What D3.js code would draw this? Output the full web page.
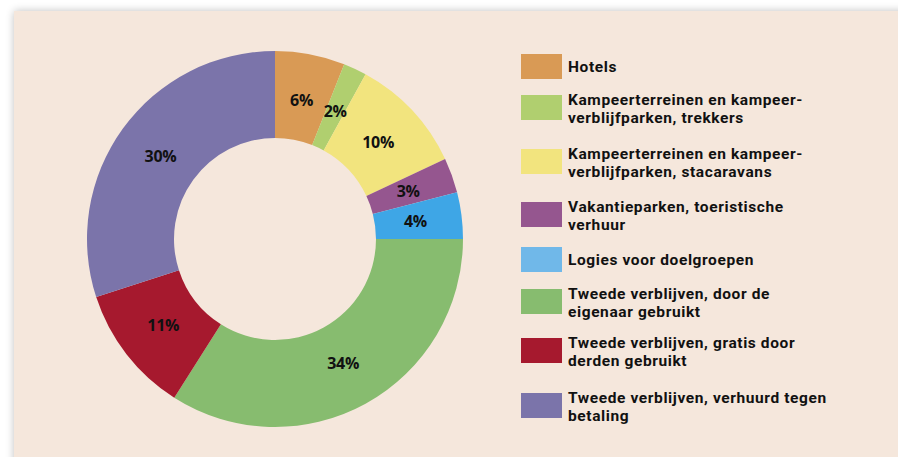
<!DOCTYPE html>
<html><head><meta charset="utf-8">
<script src="https://cdn.jsdelivr.net/npm/d3@7"></script>
<style>
html,body{margin:0;padding:0;background:#fff;}
svg{display:block;}
</style></head>
<body>
<svg id="chart" width="898" height="457"></svg>
<script>
const categories = [
  "Hotels",
  "Kampeerterreinen en kampeer-|verblijfparken, trekkers",
  "Kampeerterreinen en kampeer-|verblijfparken, stacaravans",
  "Vakantieparken, toeristische|verhuur",
  "Logies voor doelgroepen",
  "Tweede verblijven, door de|eigenaar gebruikt",
  "Tweede verblijven, gratis door|derden gebruikt",
  "Tweede verblijven, verhuurd tegen|betaling"
];
const values = [6, 2, 10, 3, 4, 34, 11, 30];
const sliceColors = ["#D99A55", "#B0CF6F", "#F2E47E", "#95568F", "#3EA6E6", "#87BC6F", "#A6192E", "#7B74AA"];
const legendColors = ["#D99A55", "#B0CF6F", "#F2E47E", "#95568F", "#70B8E9", "#87BC6F", "#A6192E", "#7B74AA"];

const svg = d3.select("#chart");
const defs = svg.append("defs");
const f = defs.append("filter").attr("id","sh").attr("x","-5%").attr("y","-5%").attr("width","110%").attr("height","110%");
f.append("feGaussianBlur").attr("in","SourceAlpha").attr("stdDeviation",4);
f.append("feOffset").attr("dx",0).attr("dy",0).attr("result","b");
f.append("feComponentTransfer").append("feFuncA").attr("type","linear").attr("slope",0.25);
const m = f.append("feMerge"); m.append("feMergeNode"); m.append("feMergeNode").attr("in","SourceGraphic");

svg.append("rect").attr("x",14).attr("y",11).attr("width",900).attr("height",460)
  .attr("fill","#F5E7DC").attr("filter","url(#sh)");

const cx = 275, cy = 239, rOuter = 188, rInner = 101;
const pie = d3.pie().sort(null).value(d => d)(values);
const arc = d3.arc().innerRadius(rInner).outerRadius(rOuter);
const g = svg.append("g").attr("transform", `translate(${cx},${cy})`);
g.selectAll("path").data(pie).join("path")
  .attr("d", arc).attr("fill", (d,i) => sliceColors[i]);
const labelArc = d3.arc().innerRadius(rInner - 2).outerRadius(rOuter - 4);
g.selectAll("text").data(pie).join("text")
  .attr("transform", d => `translate(${labelArc.centroid(d)})`)
  .attr("text-anchor","middle").attr("dy","0.36em")
  .attr("font-family","'Open Sans', sans-serif").attr("font-weight","bold")
  .attr("font-size","16px").attr("fill","#111").attr("letter-spacing","-0.3px")
  .text(d => d.data + "%");

const swatchY = [54, 95, 149, 202, 247, 289, 338, 393];
const leg = svg.append("g");
categories.forEach((c, i) => {
  const lines = c.split("|");
  leg.append("rect").attr("x",521).attr("y",swatchY[i]).attr("width",41).attr("height",25)
    .attr("fill", legendColors[i]);
  const baseY = lines.length === 1 ? swatchY[i] + 18 : swatchY[i] + 9.5;
  lines.forEach((l, j) => leg.append("text").attr("x",568).attr("y", baseY + j*18)
    .attr("font-family","Roboto, sans-serif").attr("font-weight","bold")
    .attr("font-size","15.5px").attr("letter-spacing","0.6px").attr("fill","#111").text(l));
});
</script>
</body></html>
